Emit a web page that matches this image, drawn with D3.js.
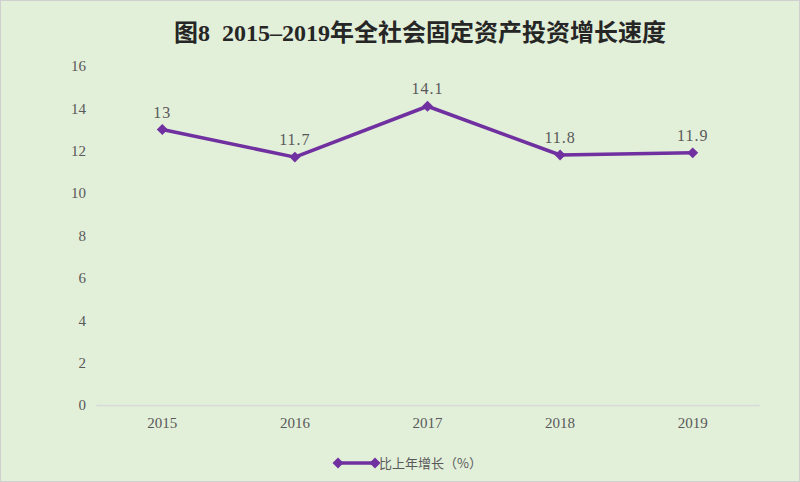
<!DOCTYPE html>
<html>
<head>
<meta charset="utf-8">
<script src="https://cdn.jsdelivr.net/npm/d3@7"></script>
<style>
  body { margin: 0; background: #fff; }
  svg { display: block; }
</style>
</head>
<body>
<svg id="chart"></svg>
<script>
const years = ["2015", "2016", "2017", "2018", "2019"];
const growth = [13, 11.7, 14.1, 11.8, 11.9];
const yTicks = [0, 2, 4, 6, 8, 10, 12, 14, 16];
const titleText = "图8  2015–2019年全社会固定资产投资增长速度";
const legendText = "比上年增长（%）";

const svgWidth = 800, svgHeight = 482;
const margin = {top: 66, right: 41, bottom: 77, left: 96},
    width = svgWidth - margin.left - margin.right,
    height = svgHeight - margin.top - margin.bottom;

const color = "#7030a0";
const textColor = "#595959";
const serif = "'Liberation Serif', 'Noto Sans CJK SC', serif";

const chart = d3.select("#chart")
    .attr("width", svgWidth)
    .attr("height", svgHeight);

chart.append("rect")
    .attr("x", 0.5).attr("y", 0.5)
    .attr("width", svgWidth - 1).attr("height", svgHeight - 1)
    .attr("fill", "#e2efd9")
    .attr("stroke", "#d0d0d0");

chart.append("text")
    .attr("x", 420)
    .attr("y", 41)
    .attr("text-anchor", "middle")
    .style("white-space", "pre")
    .style("font-family", "'Liberation Serif', 'Noto Sans CJK SC', serif")
    .style("font-weight", "bold")
    .style("font-size", "24px")
    .style("fill", "#262626")
    .text(titleText);

const g = chart.append("g")
    .attr("transform", `translate(${margin.left},${margin.top})`);

var xScale = d3.scaleBand().domain(years).range([0, width]);
var yScale = d3.scaleLinear().domain([0, 16]).range([height, 0]);

// y axis labels only, no line
var yAxis = d3.axisLeft(yScale).tickValues(yTicks).tickSize(0).tickPadding(10);
g.append("g")
    .call(yAxis)
    .call(s => s.select(".domain").remove())
    .selectAll("text")
    .style("font-family", serif)
    .style("font-size", "15px")
    .style("fill", textColor);

var xAxis = d3.axisBottom(xScale).tickSize(0).tickPadding(12);
g.append("g")
    .attr("transform", "translate(0," + height + ")")
    .call(xAxis)
    .call(s => s.select(".domain").attr("stroke", "#d9d9d9").attr("stroke-width", 1.5))
    .selectAll("text")
    .style("font-family", serif)
    .style("font-size", "15px")
    .style("fill", textColor);

const xc = d => xScale(d) + xScale.bandwidth() / 2;
const data = years.map((y, i) => ({year: y, value: growth[i]}));

var valueline = d3.line()
    .x(d => xc(d.year))
    .y(d => yScale(d.value));

g.append("path")
    .datum(data)
    .attr("d", valueline)
    .attr("fill", "none")
    .attr("stroke", color)
    .attr("stroke-width", 3.5)
    .attr("stroke-linejoin", "round");

const diamond = d3.symbol().type(d3.symbolSquare).size(60);
g.selectAll(".dot")
    .data(data)
    .enter()
    .append("path")
    .attr("class", "dot")
    .attr("transform", d => `translate(${xc(d.year)},${yScale(d.value)}) rotate(45)`)
    .attr("d", diamond)
    .attr("fill", color);

g.selectAll(".label")
    .data(data)
    .enter()
    .append("text")
    .attr("class", "label")
    .attr("x", d => xc(d.year))
    .attr("y", d => yScale(d.value) - 12)
    .attr("text-anchor", "middle")
    .style("font-family", serif)
    .style("font-size", "16px")
    .style("letter-spacing", "1px")
    .style("fill", textColor)
    .text(d => d.value);

// legend
const legend = chart.append("g").attr("transform", "translate(338,463)");
legend.append("line")
    .attr("x1", 0).attr("x2", 37)
    .attr("stroke", color).attr("stroke-width", 3.5);
legend.selectAll(".ld")
    .data([0, 37])
    .enter()
    .append("path")
    .attr("transform", d => `translate(${d},0) rotate(45)`)
    .attr("d", diamond)
    .attr("fill", color);
legend.append("text")
    .attr("x", 41)
    .attr("y", 4.5)
    .style("font-family", "'Noto Sans CJK SC', sans-serif")
    .style("font-size", "13px")
    .style("fill", textColor)
    .text(legendText);
</script>
</body>
</html>
